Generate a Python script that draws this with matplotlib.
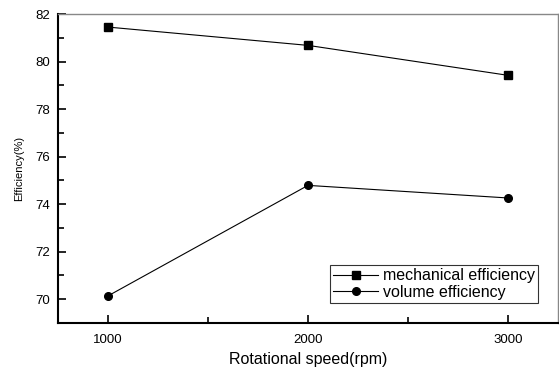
import matplotlib.pyplot as plt
from matplotlib.ticker import MultipleLocator

plt.rcParams['font.family'] = ['Liberation Sans', 'DejaVu Sans']

speed = [1000, 2000, 3000]
mechanical = [81.45, 80.68, 79.42]
volume = [70.14, 74.79, 74.26]

fig = plt.figure(figsize=(5.59, 3.68), dpi=100)
ax = fig.add_axes([58 / 559, 1 - 323 / 368, 500 / 559, 309 / 368])

ax.plot(speed, mechanical, color='black', lw=0.8, marker='s', ms=5.3,
        label='mechanical efficiency')
ax.plot(speed, volume, color='black', lw=0.8, marker='o', ms=5.5,
        label='volume efficiency')

ax.set_xlim(750, 3250)
ax.set_ylim(69, 82)
ax.xaxis.set_major_locator(MultipleLocator(1000))
ax.xaxis.set_minor_locator(MultipleLocator(500))
ax.yaxis.set_major_locator(MultipleLocator(2))
ax.yaxis.set_minor_locator(MultipleLocator(1))
ax.tick_params(which='both', direction='in', top=False, right=False,
               labelsize=9.5, width=1.2)
ax.tick_params(which='major', length=6)
ax.tick_params(which='minor', length=4)
ax.tick_params(axis='x', which='major', pad=8)
ax.tick_params(axis='y', which='major', pad=6)

for side in ('left', 'bottom'):
    ax.spines[side].set_linewidth(1.5)
for side in ('top', 'right'):
    ax.spines[side].set_color('#888888')
    ax.spines[side].set_linewidth(1.0)

ax.set_xlabel('Rotational speed(rpm)', fontsize=11.5, labelpad=4)
ax.set_ylabel('Efficiency(%)', fontsize=8, labelpad=8)

leg = ax.legend(loc='lower right', bbox_to_anchor=(0.96, 0.065), fontsize=11.5,
                frameon=True, fancybox=False, edgecolor='black',
                handlelength=2.8, handletextpad=0.3, borderpad=0.2,
                labelspacing=0.1, borderaxespad=0)
leg.get_frame().set_linewidth(0.8)

fig.savefig('out.png', dpi=100)
